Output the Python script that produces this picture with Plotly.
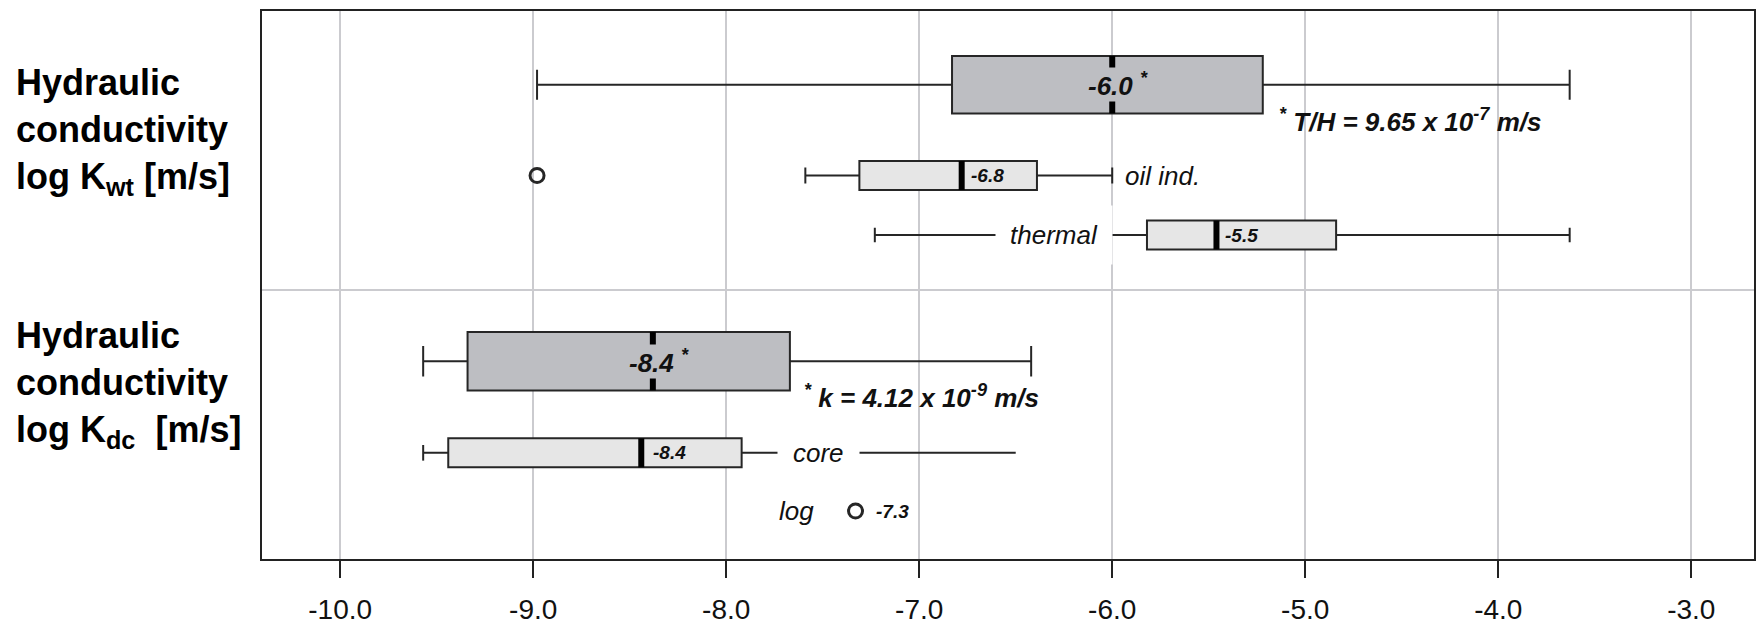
import plotly.graph_objects as go

# Box statistics (log10 of hydraulic conductivity, m/s)
groups = ["T/H", "oil ind.", "thermal", "k", "core"]
lower_fence = [-8.98, -7.59, -7.23, -9.57, -9.57]
q1 = [-6.83, -7.31, -5.82, -9.34, -9.44]
median = [-6.00, -6.78, -5.46, -8.38, -8.44]
q3 = [-5.22, -6.39, -4.84, -7.67, -7.92]
upper_fence = [-3.63, -6.00, -3.63, -6.42, -6.50]

# Single values drawn as open circles
oil_outlier = [-8.98]
log_value = [-7.33]

tick_values = [-10, -9, -8, -7, -6, -5, -4, -3]
tick_labels = ["-10.0", "-9.0", "-8.0", "-7.0", "-6.0", "-5.0", "-4.0", "-3.0"]

# Layout: vertical row positions (axis units, top = 0), box heights and styling
ROW_Y = [0.737, 1.645, 2.24, 3.502, 4.418]
LOG_Y = 5.0
DIVIDER_Y = 2.79
BOX_W = [0.575, 0.29, 0.29, 0.585, 0.29]
DARK = "#bdbec2"
LIGHT = "#e6e6e6"
FILLS = [DARK, LIGHT, LIGHT, DARK, LIGHT]
CAPS = [0.52, 0.55, 0.5, 0.52, 0.0]
EDGE = "#262626"
GRID = "#cbcbcf"
FONT = "Liberation Sans, Arial, sans-serif"

fig = go.Figure()

for i, g in enumerate(groups):
    fig.add_trace(go.Box(
        name=g, y=[ROW_Y[i]], orientation="h",
        q1=[q1[i]], median=[median[i]], q3=[q3[i]],
        lowerfence=[lower_fence[i]], upperfence=[upper_fence[i]],
        width=BOX_W[i], whiskerwidth=CAPS[i],
        fillcolor=FILLS[i], line=dict(color=EDGE, width=2),
        boxpoints=False, hoverinfo="skip", showlegend=False,
    ))

# Thick median bars
for i, g in enumerate(groups):
    fig.add_trace(go.Scatter(
        x=[median[i], median[i]],
        y=[ROW_Y[i] - BOX_W[i] / 2, ROW_Y[i] + BOX_W[i] / 2],
        mode="lines", line=dict(color="#000000", width=6),
        hoverinfo="skip", showlegend=False,
    ))

# Left cap of the core whisker (its right end is open)
ci = groups.index("core")
fig.add_trace(go.Scatter(
    x=[lower_fence[ci], lower_fence[ci]],
    y=[ROW_Y[ci] - BOX_W[ci] * 0.27, ROW_Y[ci] + BOX_W[ci] * 0.27],
    mode="lines", line=dict(color=EDGE, width=2),
    hoverinfo="skip", showlegend=False,
))

# Open-circle single values
circle = dict(symbol="circle-open", size=14, color=EDGE, line=dict(color=EDGE, width=3))
fig.add_trace(go.Scatter(
    x=oil_outlier, y=[ROW_Y[1]] * len(oil_outlier), mode="markers",
    marker=circle, hoverinfo="skip", showlegend=False,
))
fig.add_trace(go.Scatter(
    x=log_value, y=[LOG_Y], mode="markers",
    marker=circle, hoverinfo="skip", showlegend=False,
))

ann = []


def label(text, x, y, size, xanchor="center", xshift=0, bold=False, italic=True,
          bg=None, pad=1, yshift=0):
    t = text
    if bold:
        t = "<b>" + t + "</b>"
    if italic:
        t = "<i>" + t + "</i>"
    d = dict(text=t, x=x, y=y, xref="x", yref="y", showarrow=False,
             xanchor=xanchor, yanchor="middle", xshift=xshift, yshift=yshift,
             font=dict(family=FONT, size=size, color="#111111"))
    if bg:
        d["bgcolor"] = bg
        d["borderpad"] = pad
    ann.append(d)


def fmt(v):
    return f"{v:.1f}"


# Median labels
label(fmt(median[0]) + " <sup>*</sup>", median[0], ROW_Y[0], 26, bold=True, bg=DARK, pad=0, xshift=6)
label(fmt(median[3]) + " <sup>*</sup>", median[3], ROW_Y[3], 26, bold=True, bg=DARK, pad=0, xshift=6)
label(fmt(median[1]), median[1], ROW_Y[1], 19, xanchor="left", xshift=7, bold=True)
label(fmt(median[2]), median[2], ROW_Y[2], 19, xanchor="left", xshift=7, bold=True)
label(fmt(median[4]), median[4], ROW_Y[4], 19, xanchor="left", xshift=10, bold=True)
label(fmt(log_value[0]), log_value[0], LOG_Y, 19, xanchor="left", xshift=18, bold=True)

# Footnotes for the representative values
label("<sup>*</sup> T/H = 9.65 x 10<sup>-7</sup> m/s", q3[0], ROW_Y[0] + 0.355, 26,
      xanchor="left", xshift=14, bold=True)
label("<sup>*</sup> k = 4.12 x 10<sup>-9</sup> m/s", q3[3], ROW_Y[3] + 0.355, 26,
      xanchor="left", xshift=12, bold=True)

# Method labels
label("oil ind.", upper_fence[1], ROW_Y[1], 26, xanchor="left", xshift=11)
label("thermal", -6.30, ROW_Y[2], 26, bg="#ffffff", pad=14)
label("core", -7.52, ROW_Y[4], 26, bg="#ffffff", pad=15)
label("log", -7.635, LOG_Y, 26)

# Row-group titles on the left
for txt, yy in [("Hydraulic<br>conductivity<br>log K<sub>wt</sub> [m/s]", 1.20),
                ("Hydraulic<br>conductivity<br>log K<sub>dc</sub> &nbsp;[m/s]", 3.73)]:
    ann.append(dict(text="<b>" + txt + "</b>", xref="paper", yref="y",
                    x=-0.166, y=yy, xanchor="left", yanchor="middle", align="left",
                    showarrow=False, font=dict(family=FONT, size=36, color="#000000")))

fig.update_layout(
    width=1756, height=626,
    margin=dict(l=262, r=2, t=11, b=67, autoexpand=False),
    paper_bgcolor="#ffffff", plot_bgcolor="#ffffff",
    annotations=ann,
    boxmode="overlay",
    xaxis=dict(
        range=[-10.405, -2.675], tickvals=tick_values, ticktext=tick_labels,
        showgrid=True, gridcolor=GRID, gridwidth=2, zeroline=False,
        showline=True, linecolor="#222222", linewidth=2, mirror=True,
        ticks="outside", ticklen=17, tickwidth=2, tickcolor="#222222",
        ticklabelstandoff=7, automargin=False,
        tickfont=dict(family=FONT, size=28, color="#111111"),
    ),
    yaxis=dict(
        range=[5.48, 0], tickvals=[DIVIDER_Y], showticklabels=False, ticks="",
        showgrid=True, gridcolor=GRID, gridwidth=2, zeroline=False,
        showline=True, linecolor="#222222", linewidth=2, mirror=True,
        automargin=False,
    ),
)

fig.write_html("out.html")
